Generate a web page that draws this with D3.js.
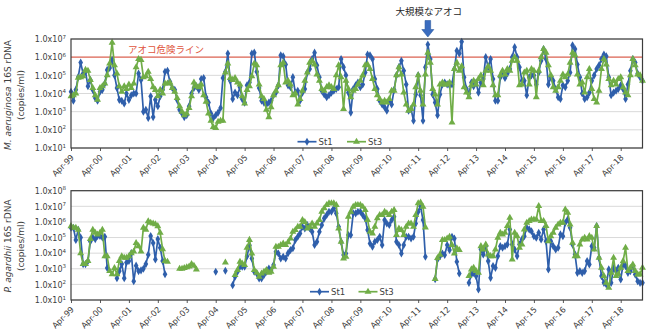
<!DOCTYPE html>
<html>
<head>
<meta charset="utf-8">
<script src="https://cdn.jsdelivr.net/npm/d3@7"></script>
<style>
  html, body { margin: 0; padding: 0; background: #fff; }
  svg { display: block; }
  text { font-family: "DejaVu Sans", Verdana, sans-serif; fill: #404040; }
  .jp { font-family: "Noto Sans CJK JP", sans-serif; }
</style>
</head>
<body>
<svg id="chart" width="650" height="333"></svg>
<script>
// Monthly samples, April 1999 – January 2019 (238 months).
const firstMonth = new Date(1999, 3, 1);
const monthCount = 238;

// x-axis tick labels (every April)
const tickLabels = ["Apr-99","Apr-00","Apr-01","Apr-02","Apr-03","Apr-04","Apr-05","Apr-06","Apr-07","Apr-08",
                    "Apr-09","Apr-10","Apr-11","Apr-12","Apr-13","Apr-14","Apr-15","Apr-16","Apr-17","Apr-18"];
const seriesNames = ["St1", "St3"];

// All values are log10(copies/ml); null = not measured.
// M. aeruginosa 16S rDNA, St1 (one row per year, April → March)
const aerSt1Log = [
  4.1, 3.6, 4.2, 4.9, 5.7, 5.1, 5.2, 4.4, 4.75, 4.2, 3.75, 3.6,
  4.1, 4.2, 4.55, 5.3, 5.4, 5.85, 5.0, 4.3, 3.65, 3.6, 3.45, 4.0,
  3.65, 3.9, 4.0, 4.0, 5.1, 4.75, 3.0, 3.1, 2.65, 3.85, 2.7, 3.65,
  3.3, 3.85, 4.2, 5.2, 5.25, 4.65, 4.3, 4.2, 3.65, 3.1, 2.9, 2.7,
  2.8, 3.3, 4.0, 4.3, 4.4, 4.2, 4.8, 4.85, 3.8, 3.5, 2.9, 2.65,
  2.8, 2.95, 3.2, 4.85, 5.2, 6.2, 4.7, 3.7, 4.05, 3.9, 4.35, 3.7,
  3.5, 4.45, 4.6, 6.2, 6.25, 5.2, 4.3, 3.6, 3.5, 3.4, 3.5, 3.6,
  3.9, 4.05, 4.45, 6.1, 6.05, 5.6, 4.45, 4.35, 4.9, 4.05, 4.15, 3.6,
  4.05, 4.25, 5.15, 5.35, 5.9, 6.25, 5.55, 4.9, 4.15, 3.95, 3.8, 3.9,
  4.05, 4.15, 4.25, 4.35, 5.9, 5.45, 5.0, 4.05, 2.95, 4.25, 4.45, 4.6,
  4.35, 4.5, 5.15, 6.15, 6.1, 5.9, 4.8, 4.25, 3.6, 3.4, 3.25, 3.05,
  3.6, 3.4, 4.2, 5.0, 5.45, 5.8, 5.25, 4.5, 3.05, 3.15, 2.5, 3.95,
  5.0, 3.9, 2.5, 5.45, 6.7, 5.9, 3.95, 3.5, 2.8, 3.95, 4.5, 4.6,
  4.5, 4.45, 4.5, 5.35, 6.35, 6.2, 6.85, 4.9, 4.25, 4.0, 4.6, 4.4,
  4.6, 4.05, 4.6, 4.8, 6.0, 5.45, 5.9, 4.8, 3.6, 3.6, 4.9, 5.2,
  4.85, 5.1, 5.35, 6.0, 6.55, 6.0, 5.45, 4.7, 4.7, 3.9, 4.9, 5.0,
  5.0, 4.5, 5.15, 5.8, 6.45, 5.9, 4.5, 4.9, 4.7, 4.25, 3.8, 3.7,
  4.45, 4.35, 4.7, 5.15, 6.65, 6.45, 5.6, 4.9, 4.0, 3.7, 3.8, 4.05,
  4.7, 5.0, 5.35, 5.55, 5.9, 6.15, 6.05, 4.9, 3.9, 4.05, 4.15, 4.25,
  4.45, 4.25, 3.7, 4.5, 5.25, 5.9, 5.7, 5.1, 4.9, 4.7
];

// M. aeruginosa 16S rDNA, St3
const aerSt3Log = [
  3.85, 3.9, 4.0, 4.87, 4.9, 4.95, 5.3, 5.25, 4.75, 4.3, 3.9, 3.65,
  4.3, 4.4, 4.55, 5.0, 5.65, 6.8, 5.55, 5.1, 4.4, 4.1, 4.4, 4.25,
  4.5, 4.3, 4.55, 5.45, 5.9, 5.85, 4.9, 4.95, 5.2, 4.8, 4.35, 4.2,
  3.85, 4.2, 4.0, 4.55, 4.55, 4.6, 4.3, 4.1, 3.75, 3.3, 3.0, 2.8,
  2.9, 3.2, 3.85, 4.6, 4.4, 4.35, 4.5, 3.9, 3.55, 2.9, 2.5, 2.15,
  2.1, 2.45, 2.5, 2.5, 5.15, 5.65, 4.85, 4.75, 4.85, 4.6, 4.5, 3.85,
  3.45, 4.2, 4.4, 4.95, 5.65, 5.55, 4.5, 3.85, 3.7, 3.1, 2.7, 3.25,
  3.9, 4.15, 4.45, 5.55, 5.7, 4.6, 4.7, 4.5, 3.9, 4.0, 3.4, 3.7,
  4.15, 4.7, 5.15, 5.7, 5.8, 5.6, 5.05, 4.7, 4.25, 4.15, 4.35, 4.45,
  4.35, 4.25, 5.0, 5.55, 4.9, 3.15, 4.7, 4.25, 3.8, 4.15, 4.25, 4.5,
  4.7, 5.0, 5.55, 5.6, 5.35, 4.8, 4.25, 3.9, 3.7, 3.5, 3.6, 3.5,
  3.7, 4.15, 4.15, 5.0, 5.45, 5.05, 4.05, 3.4, 3.05, 3.15, 3.4, 4.35,
  5.0, 4.15, 3.4, 5.05, 6.25, 5.7, 4.25, 3.95, 3.4, 4.5, 4.6, 4.5,
  4.5, 4.6, 2.4, 5.35, 5.7, 5.25, 5.5, 4.35, 4.05, 3.8, 4.45, 4.7,
  4.5, 4.8, 5.0, 4.45, 5.25, 5.5, 5.25, 4.45, 3.9, 3.9, 5.0, 5.25,
  5.05, 5.35, 5.25, 5.8, 6.0, 5.8, 4.45, 4.5, 5.15, 5.25, 4.5, 5.35,
  5.25, 3.8, 5.25, 6.0, 6.45, 6.25, 5.55, 5.0, 4.35, 4.15, 4.35, 4.7,
  5.05, 4.9, 5.05, 5.7, 6.25, 6.1, 5.05, 4.5, 4.6, 4.05, 4.9, 5.35,
  4.25, 3.7, 3.5, 4.15, 5.35, 5.9, 5.6, 4.8, 4.45, 4.7, 4.5, 4.8,
  4.9, 4.35, 4.05, 3.9, 5.0, 5.9, 5.55, 5.05, 5.0, 4.7
];

const n = null;
// P. agardhii 16S rDNA, St1
const agaSt1Log = [
  5.63, 5.63, 4.85, 5.5, 5.0, 3.3, 3.3, 3.5, 4.75, 5.0, 4.9, 5.1,
  5.1, 5.0, 5.05, 3.05, n, n, n, 2.4, 2.85, 3.3, 2.4, 3.4,
  3.5, 4.0, 2.2, 3.2, 2.85, 2.9, 3.0, 3.3, 3.9, 5.1, 4.65, 3.6,
  4.9, 4.35, 3.5, 2.65, n, n, n, n, n, n, n, n,
  n, n, n, n, n, n, n, n, n, n, n, n,
  2.81, n, n, n, 2.87, n, n, 1.95, 2.49, 2.81, 3.13, 3.13,
  3.13, 3.8, 4.5, 3.66, 2.81, 2.7, 2.38, 2.38, 2.6, 2.81, 3.02, 2.92,
  3.24, 4.09, 3.98, 3.66, 3.77, 3.66, 4.0, 4.2, 4.31, 4.84, 5.05, 5.26,
  5.69, 5.58, 5.8, 5.6, 5.37, 4.52, 4.73, 5.37, 5.8, 6.23, 6.44, 6.65,
  6.65, 6.87, 6.55, 5.69, 4.73, 3.88, 3.98, 5.16, 5.16, 6.55, 6.55, 6.65,
  6.65, 6.44, 6.23, 5.48, 4.62, 4.41, 4.73, 4.84, 5.05, 4.52, 6.12, 5.9,
  5.8, 6.12, 6.33, 4.73, 4.52, 3.98, 4.52, 5.05, 5.05, 4.94, 5.05, 5.9,
  6.65, 7.0, 6.12, 3.77, n, n, n, 2.34, 3.6, 3.8, 3.98, 3.88,
  4.52, 4.2, 5.05, 4.94, 3.45, 2.7, n, n, n, 2.1, 2.64, 2.74,
  2.53, 1.68, 4.24, 3.92, 4.45, 3.49, 2.42, 3.17, 3.06, 3.81, 4.45, 4.35,
  4.45, 4.56, 5.52, 4.56, 4.24, 3.81, 4.56, 4.88, 5.09, 5.63, 5.52, 5.4,
  5.09, 4.99, 5.31, 4.88, 5.52, 4.77, 2.96, 4.77, 4.45, 4.24, 4.35, 5.2,
  5.09, 5.95, 6.16, 5.63, 4.56, 3.92, 2.74, 2.85, 2.74, 2.85, 3.49, 3.28,
  4.45, 4.35, 5.74, 3.7, 2.53, 2.1, 2.0, 2.96, 2.1, 3.06, 2.85, 3.06,
  2.32, 3.28, 3.17, 2.74, 2.85, 3.17, 2.64, 2.2, 2.1, 2.1
];

// P. agardhii 16S rDNA, St3
const agaSt3Log = [
  5.73, 5.63, 5.63, 5.5, 4.0, 3.3, 3.3, 3.5, 4.9, 5.5, 5.3, 5.2,
  5.3, 5.5, 3.8, 3.8, 2.85, 2.65, 3.05, 2.65, 3.5, 3.8, 3.7, 3.7,
  3.8, 4.0, 4.1, 4.65, 4.45, 4.1, 5.63, 5.5, 6.05, 5.95, 5.9, 5.85,
  5.73, 5.3, 4.25, 3.5, 3.45, n, n, n, n, 3.0, 3.0, 3.05,
  3.1, 3.15, 3.3, 3.2, 2.95, n, n, n, n, n, n, n,
  n, n, n, n, 3.4, n, n, n, 2.6, 2.92, 3.45, 3.34,
  3.24, 4.35, 4.85, 3.98, 2.92, 2.75, 2.49, 2.7, 2.81, 2.92, 2.75, 2.81,
  3.13, 4.41, 4.41, 4.52, 4.62, 4.52, 4.7, 4.94, 5.37, 5.48, 5.69, 5.69,
  6.12, 6.0, 5.58, 5.69, 5.9, 5.69, 5.9, 6.12, 6.65, 6.87, 7.08, 7.19,
  7.19, 7.19, 7.08, 5.58, 4.73, 3.66, 3.77, 6.33, 6.65, 6.97, 7.08, 7.08,
  7.08, 6.97, 6.76, 6.12, 5.37, 5.26, 5.69, 6.23, 6.44, 6.44, 6.65, 6.55,
  6.44, 6.65, 6.76, 5.16, 5.58, 5.48, 5.16, 5.69, 5.9, 5.9, 5.69, 6.44,
  7.19, 7.25, 6.97, 5.65, n, n, n, 2.34, 3.69, 3.9, 4.84, 4.84,
  4.94, 5.05, 4.52, 3.98, 4.31, 4.2, n, n, n, 2.53, 2.96, 3.06,
  2.85, 2.74, 4.45, 4.24, 4.56, 3.92, 3.81, 3.81, 4.24, 4.99, 5.31, 5.2,
  5.31, 5.74, 6.27, 3.6, 5.31, 5.09, 4.35, 4.56, 5.52, 5.95, 6.06, 6.16,
  6.16, 6.16, 7.02, 6.06, 6.06, 5.74, 4.77, 5.09, 5.31, 5.63, 5.84, 5.95,
  5.95, 6.8, 6.59, 5.84, 4.67, 3.81, 3.81, 4.56, 4.88, 4.99, 4.88, 5.09,
  4.99, 4.24, 5.74, 3.7, 3.06, 2.53, 2.1, 1.78, 2.74, 3.7, 2.53, 2.64,
  3.06, 3.49, 4.35, 2.85, 3.06, 3.28, 2.85, 2.64, 2.64, 3.06
];

// Bloom-risk threshold (copies/ml) and event annotation
const riskLevel = 1e6;
const riskLabel = "アオコ危険ライン";
const eventLabel = "大規模なアオコ";
const eventMonth = new Date(2011, 7, 1);

const colors = { St1: "#2f5fab", St3: "#70ad47" };

const svg = d3.select("#chart");
const dates = d3.range(monthCount).map(i => new Date(1999, 3 + i, 1));
const x = d3.scaleTime()
  .domain([firstMonth, dates[monthCount - 1]])
  .range([71, 642.5]);

function toRows(logs) {
  return logs.map((v, i) => ({ date: dates[i], value: v == null ? null : Math.pow(10, v) }));
}

function drawPanel(cfg) {
  const { top, bottom, maxExp, st1, st3, titleItalic, titleRest, titleY, legendY, legendX } = cfg;
  const y = d3.scaleLog().domain([10, Math.pow(10, maxExp)]).range([bottom, top]);
  const g = svg.append("g");
  const exps = d3.range(1, maxExp + 1);

  // gridlines
  g.selectAll("line.grid").data(exps).join("line")
    .attr("x1", x.range()[0]).attr("x2", x.range()[1])
    .attr("y1", e => y(Math.pow(10, e))).attr("y2", e => y(Math.pow(10, e)))
    .attr("stroke", "#d9d9d9").attr("stroke-width", 1);

  // y tick labels 1.0x10^n
  exps.forEach(e => {
    const t = g.append("text")
      .attr("x", 66).attr("y", y(Math.pow(10, e)) + 3.2)
      .attr("text-anchor", "end").style("font-size", "8px");
    t.append("tspan").text("1.0x10");
    t.append("tspan").attr("dy", -3.6).style("font-size", "5.5px").text(e);
  });

  // x axis ticks and rotated labels
  const aprils = tickLabels.map((l, i) => new Date(1999 + i, 3, 1));
  const axis = d3.axisBottom(x).tickValues(aprils).tickSize(3)
    .tickFormat((d, i) => tickLabels[i]);
  const ax = g.append("g").attr("transform", `translate(0,${bottom})`).call(axis);
  ax.select(".domain").remove();
  ax.selectAll(".tick line").attr("stroke", "#595959");
  ax.selectAll(".tick text")
    .attr("text-anchor", "end")
    .attr("x", 0).attr("y", 0).attr("dy", 0)
    .attr("transform", "translate(3,10) rotate(-45)")
    .style("font-size", "8.2px")
    .style("font-family", "\"DejaVu Sans\", Verdana, sans-serif")
    .attr("fill", "#404040");

  // bloom threshold
  if (cfg.risk) {
    g.append("line")
      .attr("x1", x.range()[0]).attr("x2", x.range()[1])
      .attr("y1", y(riskLevel)).attr("y2", y(riskLevel))
      .attr("stroke", "#e46b5a").attr("stroke-width", 1.4);
    g.append("text").attr("class", "jp")
      .attr("x", 128).attr("y", y(riskLevel) - 4)
      .style("font-size", "9.5px").style("fill", "#e0553c")
      .text(riskLabel);
  }

  // series
  const line = d3.line().defined(d => d.value != null)
    .x(d => x(d.date)).y(d => y(d.value));
  const diamond = d3.symbol().type(d3.symbolDiamond).size(19);
  const triangle = d3.symbol().type(d3.symbolTriangle).size(21);
  [[st1, "St1", diamond], [st3, "St3", triangle]].forEach(([rows, name, sym]) => {
    g.append("path").datum(rows)
      .attr("fill", "none").attr("stroke", colors[name])
      .attr("stroke-width", 1.7).attr("stroke-linejoin", "round")
      .attr("d", line);
    g.selectAll(null).data(rows.filter(d => d.value != null)).join("path")
      .attr("transform", d => `translate(${x(d.date)},${y(d.value)})`)
      .attr("d", sym).attr("fill", colors[name]);
  });

  // frame
  g.append("rect")
    .attr("x", x.range()[0]).attr("y", top)
    .attr("width", x.range()[1] - x.range()[0]).attr("height", bottom - top)
    .attr("fill", "none").attr("stroke", "#3c3c3c").attr("stroke-width", 1.2);

  // axis title
  const tt = g.append("text")
    .attr("transform", `translate(11,${titleY}) rotate(-90)`)
    .attr("text-anchor", "middle").style("font-size", "9px");
  tt.append("tspan").style("font-style", "italic").text(titleItalic);
  tt.append("tspan").text(titleRest);
  g.append("text")
    .attr("transform", `translate(24,${titleY}) rotate(-90)`)
    .attr("text-anchor", "middle").style("font-size", "9px")
    .text("(copies/ml)");

  // legend
  const legendItems = [[seriesNames[0], diamond, legendX[0]], [seriesNames[1], triangle, legendX[1]]];
  legendItems.forEach(([name, sym, lx]) => {
    g.append("line").attr("x1", lx).attr("x2", lx + 19)
      .attr("y1", legendY).attr("y2", legendY)
      .attr("stroke", colors[name]).attr("stroke-width", 1.7);
    g.append("path").attr("transform", `translate(${lx + 9.5},${legendY})`)
      .attr("d", sym).attr("fill", colors[name]);
    g.append("text").attr("x", lx + 21).attr("y", legendY + 3)
      .style("font-size", "8.5px").text(name);
  });
  return { y };
}

drawPanel({
  top: 39, bottom: 148, maxExp: 7,
  st1: toRows(aerSt1Log), st3: toRows(aerSt3Log),
  titleItalic: "M. aeruginosa", titleRest: " 16S rDNA", titleY: 95,
  legendY: 141.7, legendX: [297.5, 347], risk: true
});

drawPanel({
  top: 190.7, bottom: 300, maxExp: 8,
  st1: toRows(agaSt1Log), st3: toRows(agaSt3Log),
  titleItalic: "P. agardhii", titleRest: " 16S rDNA", titleY: 246,
  legendY: 291.7, legendX: [310, 358.5], risk: false
});

// annotation for the large bloom
const ax0 = x(eventMonth);
svg.append("text").attr("class", "jp")
  .attr("x", ax0 + 1).attr("y", 14.5)
  .attr("text-anchor", "middle")
  .style("font-size", "9.5px").style("fill", "#262626")
  .text(eventLabel);
svg.append("path")
  .attr("d", `M${ax0 - 2.8},20.5 L${ax0 + 2.8},20.5 L${ax0 + 2.8},29.5 L${ax0 + 6},29.5 L${ax0},37 L${ax0 - 6},29.5 L${ax0 - 2.8},29.5 Z`)
  .attr("fill", "#3a6cbf").attr("stroke", "#2c5aa0").attr("stroke-width", 0.6);
</script>
</body>
</html>
